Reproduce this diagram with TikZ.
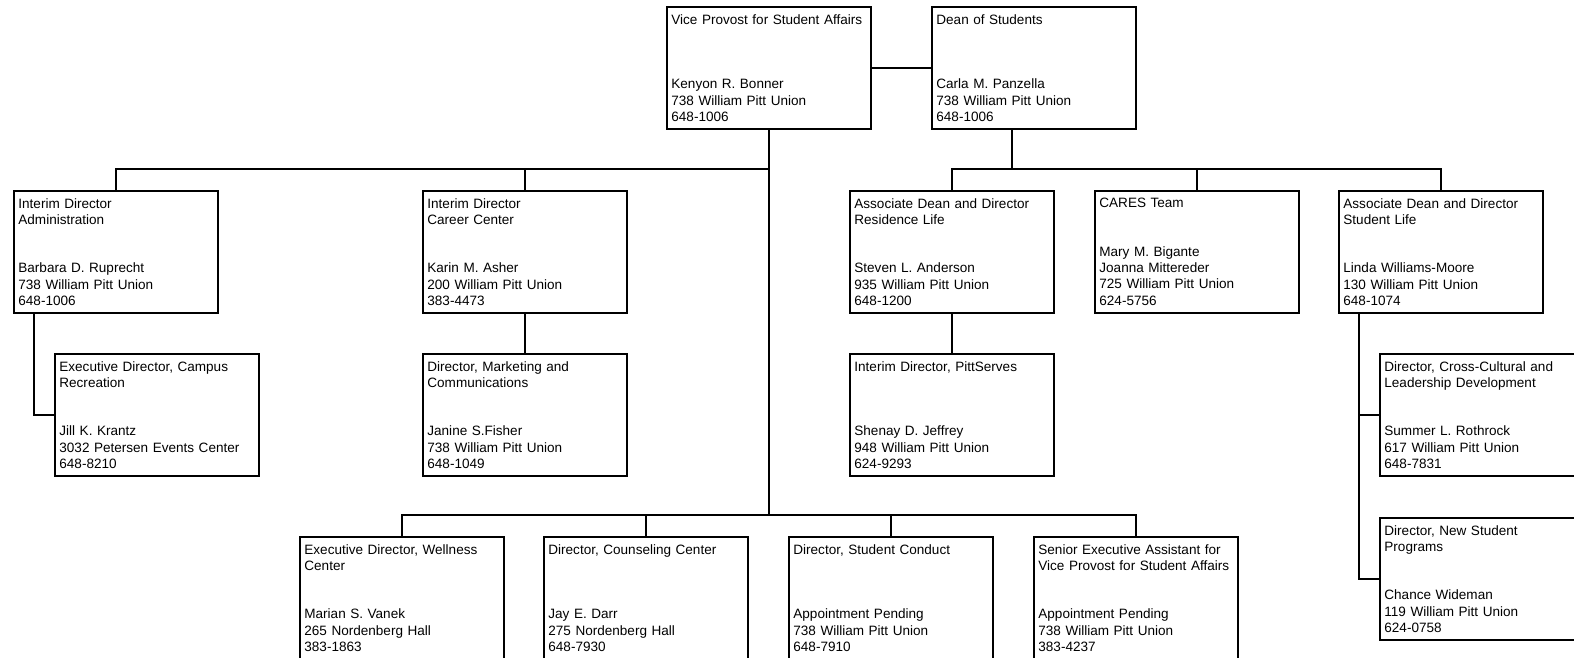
\documentclass[tikz,border=0pt]{standalone}
\usepackage{fontspec}
\setmainfont{Liberation Sans}
\usepackage{tikz}

\begin{document}
\begin{tikzpicture}[x=1pt, y=-1pt]
      \tikzstyle{post}=[draw, line width=1.8pt, fill=white, anchor=north west,
         minimum width=204pt, minimum height=122pt, text width=195pt,
         inner xsep=4.5pt, inner ysep=0pt, align=left,
         font=\fontsize{13.55}{16.2}\selectfont];
      \tikzstyle{link}=[line width=1.8pt];

      \useasboundingbox (0,0) rectangle (1574,658);
      \clip (0,0) rectangle (1574,658); %boxes at right and bottom run off the page

      %top
      \node[post] (vp) at (666,6) {Vice Provost for Student Affairs\\~\\~\\~\\Kenyon R. Bonner\\738 William Pitt Union\\648-1006};
      \node[post] (dean) at (931,6) {Dean of Students\\~\\~\\~\\Carla M. Panzella\\738 William Pitt Union\\648-1006};

      %second row
      \node[post] (admin) at (13,190) {Interim Director\\Administration\\~\\~\\Barbara D. Ruprecht\\738 William Pitt Union\\648-1006};
      \node[post] (career) at (422,190) {Interim Director\\Career Center\\~\\~\\Karin M. Asher\\200 William Pitt Union\\383-4473};
      \node[post] (reslife) at (849,190) {Associate Dean and Director\\Residence Life\\~\\~\\Steven L. Anderson\\935 William Pitt Union\\648-1200};
      \node[post] (cares) at (1094,190) {CARES Team\\~\\~\\Mary M. Bigante\\Joanna Mittereder\\725 William Pitt Union\\624-5756};
      \node[post] (stulife) at (1338,190) {Associate Dean and Director\\Student Life\\~\\~\\Linda Williams-Moore\\130 William Pitt Union\\648-1074};

      %third row
      \node[post] (camprec) at (54,353) {Executive Director, Campus\\Recreation\\~\\~\\Jill K. Krantz\\3032 Petersen Events Center\\648-8210};
      \node[post] (marketing) at (422,353) {Director, Marketing and\\Communications\\~\\~\\Janine S.Fisher\\738 William Pitt Union\\648-1049};
      \node[post] (pittserves) at (849,353) {Interim Director, PittServes\\~\\~\\~\\Shenay D. Jeffrey\\948 William Pitt Union\\624-9293};
      \node[post] (crosscult) at (1379,353) {Director, Cross-Cultural and\\Leadership Development\\~\\~\\Summer L. Rothrock\\617 William Pitt Union\\648-7831};
      \node[post] (newstud) at (1379,517) {Director, New Student\\Programs\\~\\~\\Chance Wideman\\119 William Pitt Union\\624-0758};

      %bottom row
      \node[post] (wellness) at (299,536) {Executive Director, Wellness\\Center\\~\\~\\Marian S. Vanek\\265 Nordenberg Hall\\383-1863};
      \node[post] (counseling) at (543,536) {Director, Counseling Center\\~\\~\\~\\Jay E. Darr\\275 Nordenberg Hall\\648-7930};
      \node[post] (conduct) at (788,536) {Director, Student Conduct\\~\\~\\~\\Appointment Pending\\738 William Pitt Union\\648-7910};
      \node[post] (senior) at (1033,536) {Senior Executive Assistant for\\Vice Provost for Student Affairs\\~\\~\\Appointment Pending\\738 William Pitt Union\\383-4237};

      \coordinate (topbus) at (0,169);
      \coordinate (lowbus) at (0,515);
      \coordinate (deanleg) at (1012,169);
      \coordinate (adminleg) at (34,0);
      \coordinate (stuleg) at (1359,0);

      \draw[link] (vp.east) -- (dean.west);
      \draw[link] (vp.south) -- (vp.south |- lowbus);
      \draw[link] (admin.north) |- (vp.south |- topbus);
      \draw[link] (career.north) -- (career.north |- topbus);
      \draw[link] (dean.south -| deanleg) -- (deanleg);
      \draw[link] (reslife.north) |- (deanleg) -| (stulife.north);
      \draw[link] (cares.north) -- (cares.north |- topbus);
      \draw[link] (admin.south -| adminleg) |- (camprec.west);
      \draw[link] (career.south) -- (marketing.north);
      \draw[link] (reslife.south) -- (pittserves.north);
      \draw[link] (stulife.south -| stuleg) |- (newstud.west);
      \draw[link] (stuleg |- crosscult.west) -- (crosscult.west);
      \draw[link] (wellness.north) |- (lowbus -| senior.north) -- (senior.north);
      \draw[link] (counseling.north) -- (counseling.north |- lowbus);
      \draw[link] (conduct.north) -- (conduct.north |- lowbus);

   \end{tikzpicture}
\end{document}
